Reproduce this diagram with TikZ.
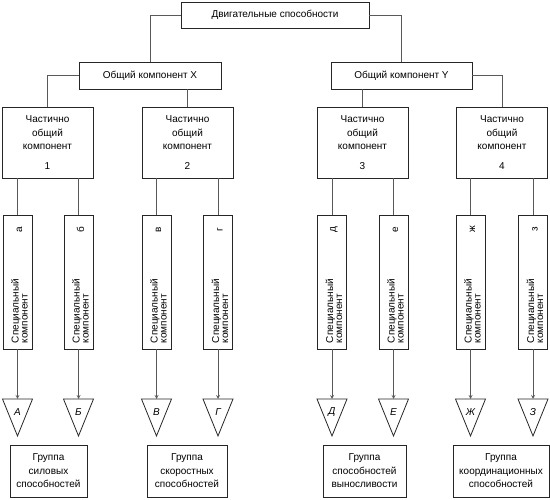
\documentclass[tikz,border=0pt]{standalone}
\usepackage{fontspec}
\setmainfont{Liberation Sans}

\begin{document}
\begin{tikzpicture}[x=1pt, y=-1pt,
        font=\fontsize{10}{13.5}\selectfont,
        box/.style={draw=black!85, line width=0.8pt, inner sep=1pt, align=center},
        special/.style={draw=black!85, line width=0.8pt, minimum width=29, minimum height=134},
        ability/.style={draw=black!85, line width=0.8pt, line join=miter},
        conn/.style={draw=black!65, line width=0.8pt}]
    \useasboundingbox (0,0) rectangle (550,500);
    \node[box, minimum width=188, minimum height=26] (Motor) at (275,15) {Двигательные способности};
    \node[box, minimum width=142, minimum height=27] (Common-X) at (150,75.5) {Общий компонент X};
    \node[box, minimum width=141, minimum height=27] (Common-Y) at (401.5,75.5) {Общий компонент Y};
    \draw[conn] (Motor.west) -| (Common-X.north);
    \draw[conn] (Motor.east) -| (Common-Y.north);
    % Partially common components
    \foreach \i/\x in {1/47.5, 2/187.5, 3/362.5, 4/502} {
            \node[box, minimum width=91, minimum height=71] (Part-\i) at (\x, 142.5) {Частично\\общий\\компонент\\[6pt]\i};
        }
    \draw[conn] (Common-X.west) -| (Part-1.north);
    \draw[conn] (Common-X.south -| Part-2.north) -- (Part-2.north);
    \draw[conn] (Common-Y.south -| Part-3.north) -- (Part-3.north);
    \draw[conn] (Common-Y.east) -| (Part-4.north);
    % Special components and abilities
    \foreach \i/\p/\x/\l/\L in {1/1/17.5/а/А, 2/1/78.5/б/Б, 3/2/156.5/в/В, 4/2/218/г/Г,
            5/3/332/д/Д, 6/3/393.5/е/Е, 7/4/470.5/ж/Ж, 8/4/533/з/З} {
            \node[special] (Special-\i) at (\x, 282) {};
            \node[rotate=90, anchor=west, align=left, inner sep=0pt, font=\fontsize{10}{9}\selectfont]
                (Special-text-\i) at ([xshift=2pt, yshift=6pt]Special-\i.south) {Специальный\\компонент};
            \node[rotate=90, inner sep=0pt] (Special-letter-\i) at ([xshift=2pt, yshift=-15pt]Special-\i.north) {\l};
            \coordinate (Ability-\i) at (\x, 399);
            \draw[ability] ([xshift=-15pt]Ability-\i) -- ([xshift=15pt]Ability-\i) -- ([yshift=-37pt]Ability-\i) -- cycle;
            \node[font=\itshape] (Ability-letter-\i) at (\x, 412) {\L};
            \draw[conn] (Part-\p.south -| Special-\i.north) -- (Special-\i.north);
            \draw[conn, -stealth] (Special-\i.south) -- (Ability-\i);
        }
    % Groups of abilities
    \foreach \i/\x/\w/\t in {1/48.5/77/{Группа\\силовых\\способностей},
            2/187/80/{Группа\\скоростных\\способностей},
            3/364.5/83/{Группа\\способностей\\выносливости},
            4/501/96/{Группа\\координационных\\способностей}} {
            \node[box, minimum width=\w, minimum height=52] (Group-\i) at (\x, 471) {\t};
        }
\end{tikzpicture}
\end{document}
